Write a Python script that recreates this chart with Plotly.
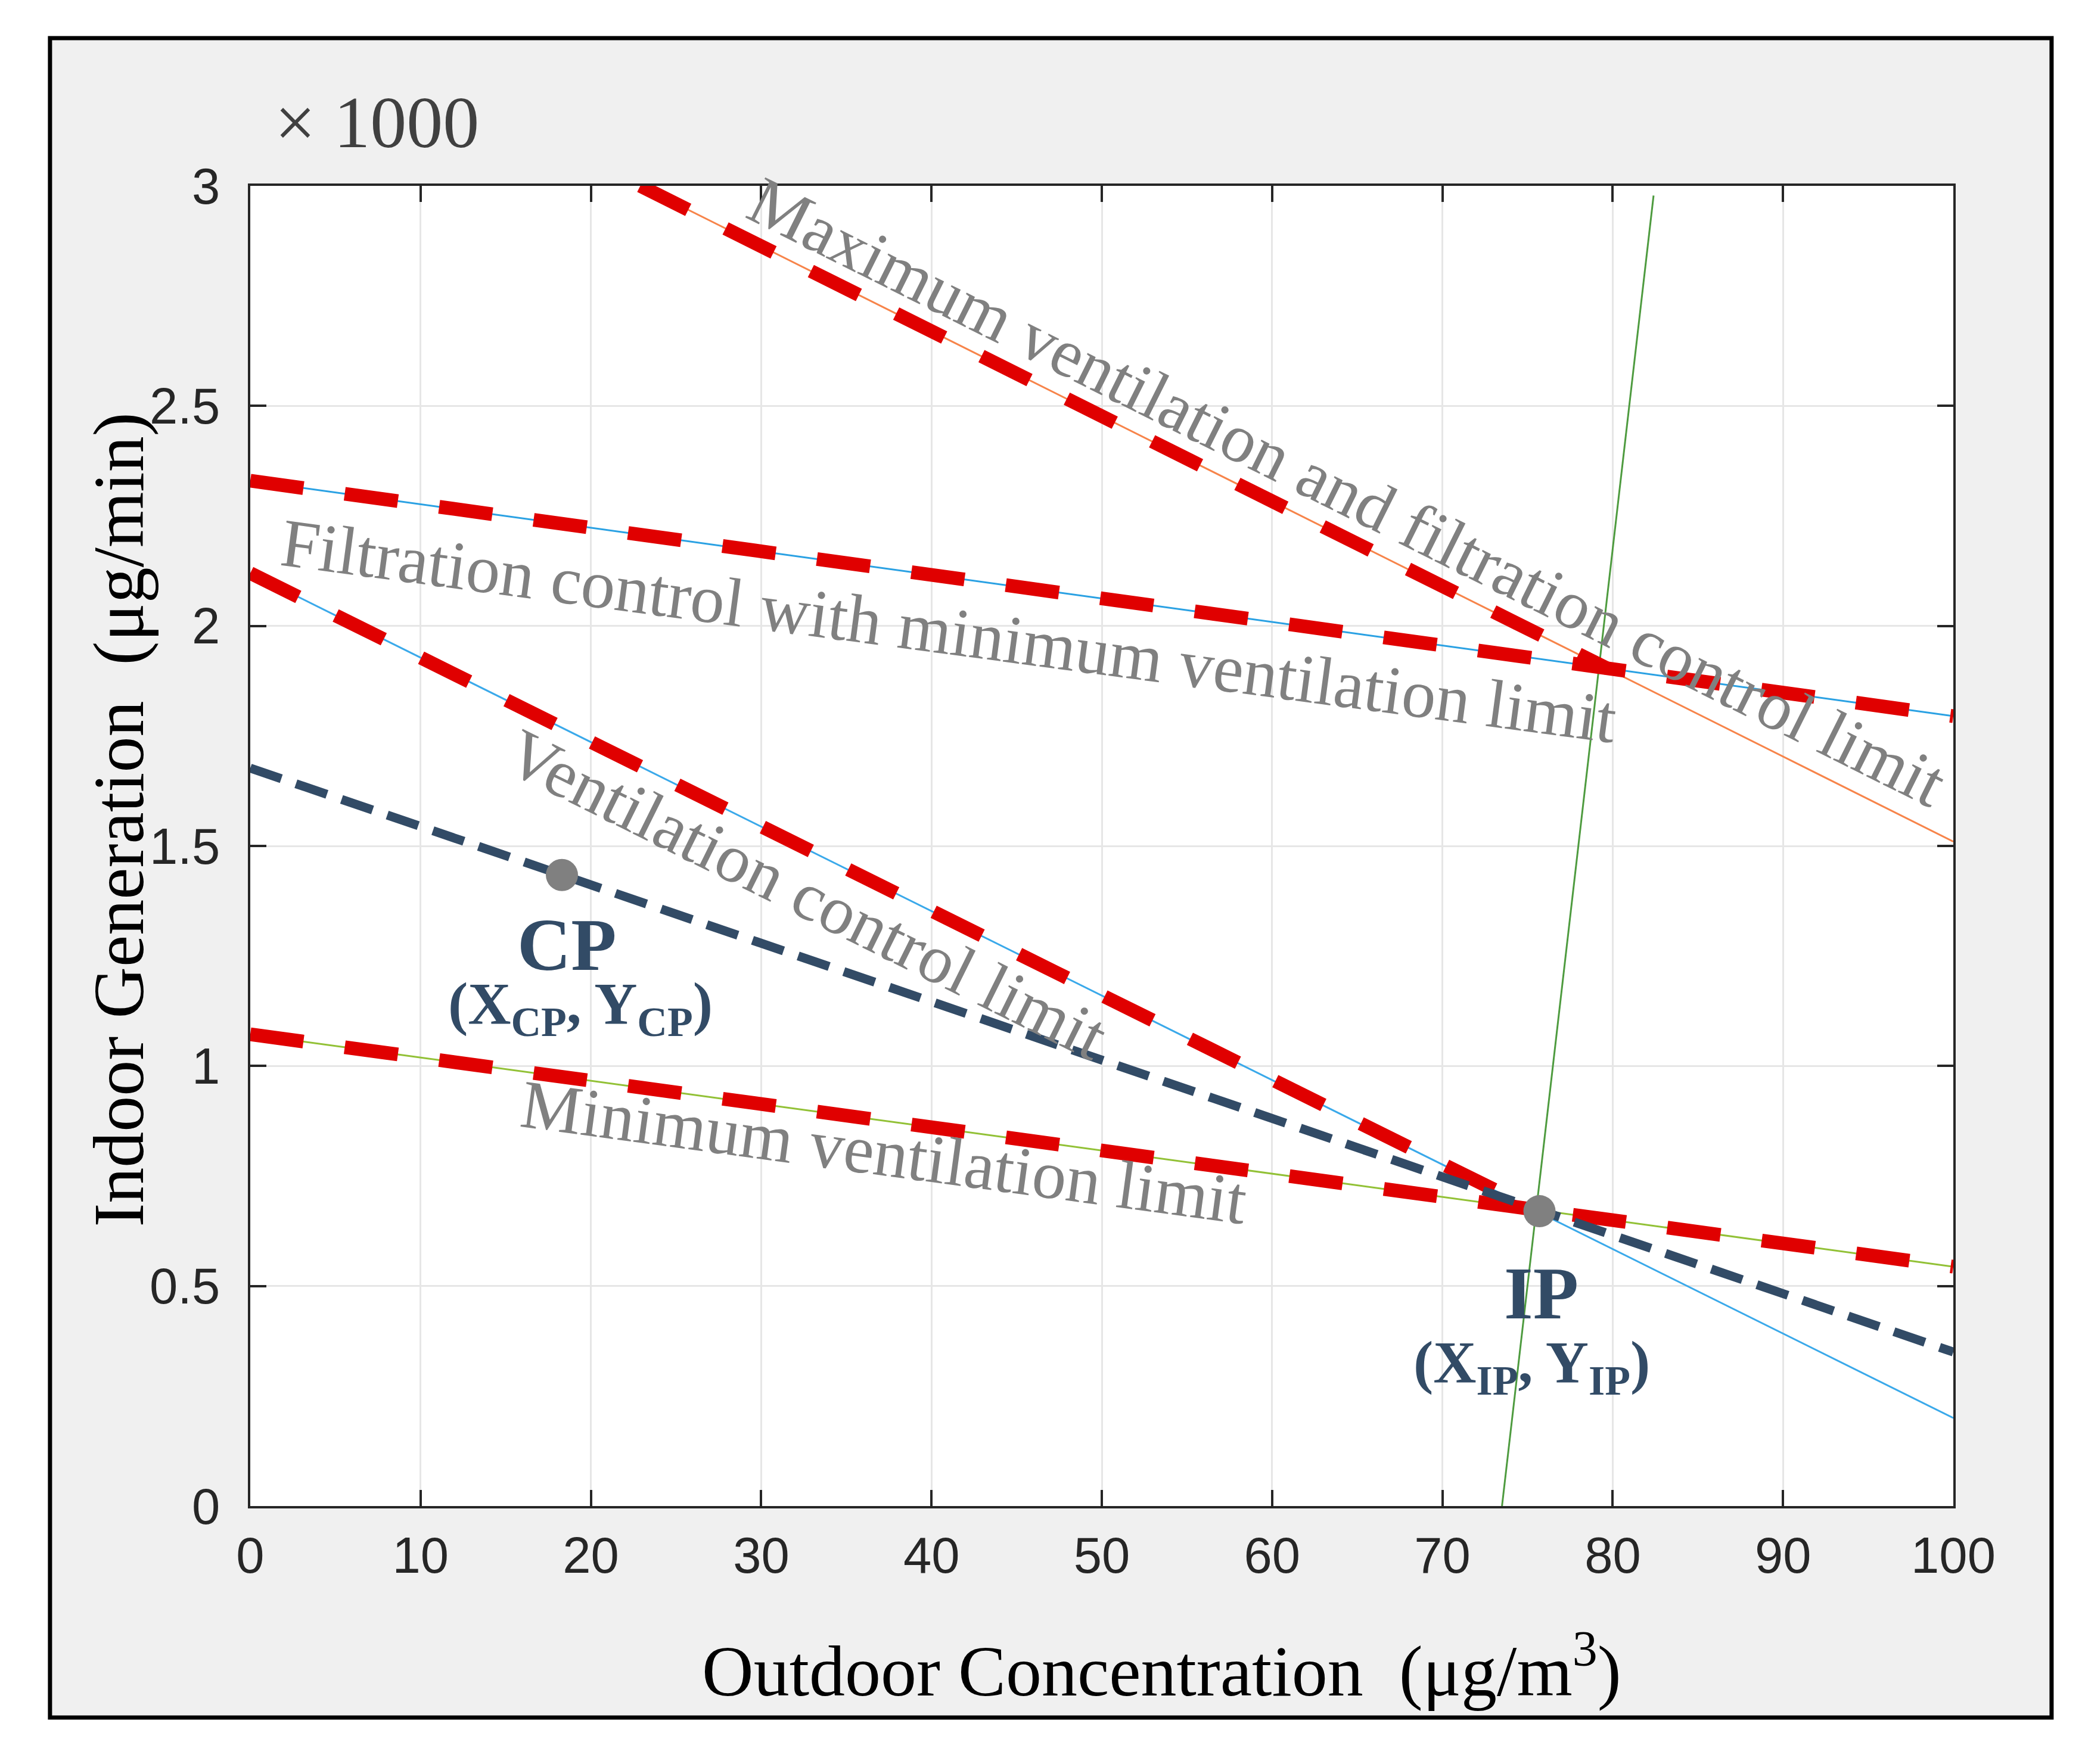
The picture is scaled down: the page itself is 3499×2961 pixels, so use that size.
import plotly.graph_objects as go

# outdoor concentration (ug/m3) vs indoor generation (x1000 ug/min)
max_vf_x = [22.9, 100]
max_vf_y = [3.0, 1.51]
filt_x = [0, 100]
filt_y = [2.33, 1.795]
vent_x = [0, 100]
vent_y = [2.12, 0.20]
minv_x = [0, 100]
minv_y = [1.072, 0.544]
op_x = [0, 100]
op_y = [1.677, 0.35]
steep_x = [73.5, 82.4]
steep_y = [0.0, 2.978]

# red dashed boundary pieces
bnd_max_x = [22.9, 79.7]
bnd_max_y = [3.0, 1.903]
bnd_vent_x = [0, 75.7]
bnd_vent_y = [2.12, 0.668]

cp = (18.3, 1.434)
ip = (75.7, 0.670)

SERIF = "Liberation Serif, Times New Roman, serif"
SANS = "Liberation Sans, Arial, sans-serif"
NAVY = "#324b66"
RED = "#e00000"
GRAY = "#808080"

fig = go.Figure()

def thin(x, y, color):
    fig.add_trace(go.Scatter(x=x, y=y, mode="lines", line=dict(color=color, width=3),
                             hoverinfo="skip"))

thin(max_vf_x, max_vf_y, "#f7844a")
thin(filt_x, filt_y, "#2aa1e3")
thin(vent_x, vent_y, "#3aa9ea")
thin(minv_x, minv_y, "#92c136")
thin(steep_x, steep_y, "#4e9b3f")

for bx, by in [(bnd_max_x, bnd_max_y), (filt_x, filt_y), (bnd_vent_x, bnd_vent_y), (minv_x, minv_y)]:
    fig.add_trace(go.Scatter(x=bx, y=by, mode="lines",
                             line=dict(color=RED, width=23, dash="90px,70px"),
                             hoverinfo="skip"))

fig.add_trace(go.Scatter(x=op_x, y=op_y, mode="lines",
                         line=dict(color=NAVY, width=15, dash="55px,26px"), hoverinfo="skip"))

fig.add_trace(go.Scatter(x=[cp[0], ip[0]], y=[cp[1], ip[1]], mode="markers",
                         marker=dict(color=GRAY, size=54), hoverinfo="skip"))

# rotated region labels
labels = [
    ("Maximum ventilation and filtration control limit", 64.4, 2.305, 26.5),
    ("Filtration control with minimum ventilation limit", 41.0, 1.988, 7.6),
    ("Ventilation control limit", 32.7, 1.39, 26.4),
    ("Minimum ventilation limit", 37.2, 0.804, 7.7),
]
for txt, lx, ly, ang in labels:
    fig.add_annotation(x=lx, y=ly, xref="x", yref="y", text=txt, showarrow=False,
                       textangle=ang, xanchor="center", yanchor="middle",
                       font=dict(family=SERIF, size=115, color=GRAY))

point_labels = [
    ("<b>CP</b>", 18.58, 1.275, 125),
    ("<b>(X<sub>CP</sub>, Y<sub>CP</sub>)</b>", 19.4, 1.133, 100),
    ("<b>IP</b>", 75.8, 0.483, 125),
    ("<b>(X<sub>IP</sub>, Y<sub>IP</sub>)</b>", 75.25, 0.317, 100),
]
for txt, lx, ly, sz in point_labels:
    fig.add_annotation(x=lx, y=ly, text=txt, showarrow=False, xanchor="center", yanchor="middle",
                       font=dict(family=SERIF, size=sz, color=NAVY))

# axis titles and multiplier
fig.add_annotation(x=0.535, y=-0.121, xref="paper", yref="paper",
                   xanchor="center", yanchor="middle",
                   text="Outdoor Concentration  (μg/m<sup>3</sup>)", showarrow=False,
                   font=dict(family=SERIF, size=120, color="#000000"))
fig.add_annotation(x=-0.077, y=0.52, xref="paper", yref="paper", textangle=-90,
                   xanchor="center", yanchor="middle",
                   text="Indoor Generation  (μg/min)", showarrow=False,
                   font=dict(family=SERIF, size=120, color="#000000"))
fig.add_annotation(x=0.0742, y=1.048, xref="paper", yref="paper",
                   xanchor="center", yanchor="middle",
                   text="× 1000", showarrow=False,
                   font=dict(family=SERIF, size=122, color="#404040"))

# grey figure frame and white axes box
fig.add_shape(type="rect", xref="paper", yref="paper", x0=-0.1176, x1=1.0577, y0=-0.1602, y1=1.1119,
              fillcolor="#f0f0f0", line=dict(color="black", width=7), layer="below")
fig.add_shape(type="rect", xref="paper", yref="paper", x0=0, x1=1, y0=0, y1=1,
              fillcolor="white", line=dict(width=0), layer="below")

axis_common = dict(showline=True, linecolor="#262626", linewidth=3.5, mirror="ticks",
                   ticks="inside", ticklen=27, tickwidth=3.5, tickcolor="#262626",
                   showgrid=True, gridcolor="#e6e6e6", gridwidth=3, zeroline=False,
                   tickfont=dict(family=SANS, size=85, color="#262626"))

fig.update_xaxes(range=[0, 100], dtick=10, tick0=0, ticklabelstandoff=6, **axis_common)
fig.update_yaxes(range=[0, 3], dtick=0.5, tick0=0, ticklabelstandoff=30, **axis_common)

# page body adds an 8px offset, so margins are shifted to compensate
fig.update_layout(width=3499, height=2961, showlegend=False,
                  paper_bgcolor="white", plot_bgcolor="white",
                  margin=dict(l=412, r=229, t=304, b=441))

fig.write_html("out.html")
